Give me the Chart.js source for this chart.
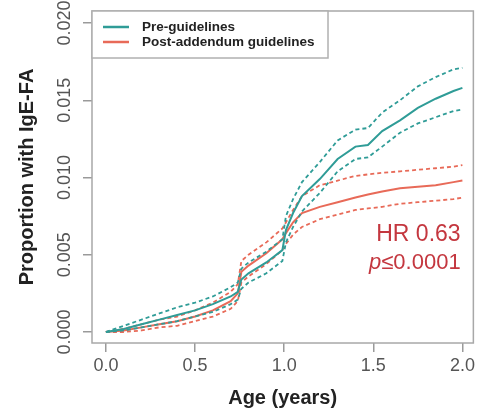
<!DOCTYPE html>
<html>
<head>
<meta charset="utf-8">
<script src="https://cdn.jsdelivr.net/npm/chart.js@4.4.0/dist/chart.umd.min.js"></script>
<style>
  html, body { margin: 0; padding: 0; background: #fff; }
  canvas { display: block; }
</style>
</head>
<body>
<canvas id="chart" width="478" height="412"></canvas>
<script>
// age in years, shared by every curve
const ages = [0, 0.1, 0.2, 0.3, 0.4, 0.5, 0.6, 0.7, 0.74, 0.76, 0.8, 0.9, 0.99, 1.01, 1.05, 1.1, 1.2, 1.3, 1.4, 1.47, 1.55, 1.65, 1.75, 1.85, 1.95, 2.0];

// cumulative proportion with IgE-FA, estimate and 95% band
const preMid  = [0, 0.0002, 0.0005, 0.0008, 0.0011, 0.0014, 0.0018, 0.0023, 0.0026, 0.0034, 0.0038, 0.0045, 0.0053, 0.0066, 0.0077, 0.0088, 0.0099, 0.0112, 0.0120, 0.0121, 0.0130, 0.0137, 0.0145, 0.0151, 0.0156, 0.0158];
const preHi   = [0, 0.0004, 0.0008, 0.0012, 0.0016, 0.0019, 0.0023, 0.0029, 0.0032, 0.0041, 0.0045, 0.0052, 0.0060, 0.0075, 0.0086, 0.0097, 0.0110, 0.0124, 0.0131, 0.0132, 0.0142, 0.0150, 0.0159, 0.0165, 0.0170, 0.0171];
const preLo   = [0, 0.0001, 0.0003, 0.0005, 0.0007, 0.0010, 0.0013, 0.0018, 0.0021, 0.0028, 0.0032, 0.0038, 0.0046, 0.0058, 0.0068, 0.0078, 0.0090, 0.0104, 0.0112, 0.0113, 0.0120, 0.0129, 0.0135, 0.0139, 0.0143, 0.0144];
const postMid = [0, 0.0001, 0.0003, 0.0005, 0.0007, 0.0010, 0.0014, 0.0020, 0.0025, 0.0039, 0.0043, 0.0051, 0.0060, 0.0064, 0.0071, 0.0077, 0.0081, 0.0084, 0.0087, 0.0089, 0.0091, 0.0093, 0.0094, 0.0095, 0.0097, 0.0098];
const postHi  = [0, 0.0002, 0.0005, 0.0008, 0.0010, 0.0014, 0.0019, 0.0026, 0.0031, 0.0046, 0.0050, 0.0058, 0.0067, 0.0071, 0.0079, 0.0088, 0.0095, 0.0098, 0.0101, 0.0102, 0.0103, 0.0104, 0.0105, 0.0106, 0.0107, 0.0108];
const postLo  = [0, 0.0000, 0.0001, 0.0003, 0.0004, 0.0007, 0.0010, 0.0015, 0.0020, 0.0032, 0.0036, 0.0044, 0.0053, 0.0057, 0.0063, 0.0068, 0.0073, 0.0076, 0.0079, 0.0080, 0.0081, 0.0083, 0.0084, 0.0085, 0.0086, 0.0087];

const xTicks = [0, 0.5, 1, 1.5, 2];
const yTicks = [0, 0.005, 0.01, 0.015, 0.02];

const hrText = "HR 0.63";
const pText = "≤0.0001";

const TEAL = "#2f9c97";
const RED = "#e86a58";
const NOTE = "#c4373f";
const FAMILY = "'Liberation Sans', Arial, sans-serif";

function points(values) {
  return values.map((v, i) => ({ x: ages[i], y: v }));
}

function curve(label, values, color, dashed, inLegend) {
  return {
    label: label,
    data: points(values),
    borderColor: color,
    borderWidth: dashed ? 1.8 : 2,
    borderDash: dashed ? [4, 3] : [],
    pointRadius: 0,
    tension: 0,
    fill: false,
    inLegend: inLegend
  };
}

// plot frame, R style box
const frame = {
  id: "frame",
  afterDatasetsDraw(chart) {
    const { ctx, chartArea: a } = chart;
    ctx.save();
    ctx.strokeStyle = "#a8a8a8";
    ctx.lineWidth = 1.5;
    ctx.strokeRect(a.left, a.top, a.right - a.left, a.bottom - a.top);
    ctx.restore();
  }
};

// boxed legend in the top left corner
const boxLegend = {
  id: "boxLegend",
  afterDatasetsDraw(chart) {
    const { ctx, chartArea: a } = chart;
    const items = chart.data.datasets.filter(d => d.inLegend);
    const x = a.left, y = a.top, w = 236, h = 47;
    ctx.save();
    ctx.fillStyle = "#fff";
    ctx.fillRect(x, y, w, h);
    ctx.strokeStyle = "#b0b0b0";
    ctx.lineWidth = 1.5;
    ctx.strokeRect(x, y, w, h);
    ctx.font = "bold 13.5px " + FAMILY;
    ctx.textBaseline = "middle";
    items.forEach((d, i) => {
      const ly = y + 16 + i * 15;
      ctx.strokeStyle = d.borderColor;
      ctx.lineWidth = 2.5;
      ctx.beginPath();
      ctx.moveTo(x + 11, ly);
      ctx.lineTo(x + 37, ly);
      ctx.stroke();
      ctx.fillStyle = "#222";
      ctx.fillText(d.label, x + 50, ly);
    });
    ctx.restore();
  }
};

// hazard ratio note
const hrNote = {
  id: "hrNote",
  afterDatasetsDraw(chart) {
    const { ctx, scales } = chart;
    const right = scales.x.getPixelForValue(1.99);
    ctx.save();
    ctx.fillStyle = NOTE;
    ctx.textAlign = "right";
    ctx.textBaseline = "middle";
    ctx.font = "23px " + FAMILY;
    ctx.fillText(hrText, right, scales.y.getPixelForValue(0.0063));
    const py = scales.y.getPixelForValue(0.0045);
    ctx.font = "22px " + FAMILY;
    const restW = ctx.measureText(pText).width;
    ctx.fillText(pText, right, py);
    ctx.font = "italic 22px " + FAMILY;
    ctx.fillText("p", right - restW, py);
    ctx.restore();
  }
};

const gridOpts = { drawOnChartArea: false, drawTicks: true, tickLength: 9, color: "#9a9a9a", lineWidth: 1.5 };

new Chart(document.getElementById("chart"), {
  type: "line",
  data: {
    datasets: [
      curve("Pre-guidelines", preMid, TEAL, false, true),
      curve("Pre-guidelines upper", preHi, TEAL, true, false),
      curve("Pre-guidelines lower", preLo, TEAL, true, false),
      curve("Post-addendum guidelines", postMid, RED, false, true),
      curve("Post-addendum upper", postHi, RED, true, false),
      curve("Post-addendum lower", postLo, RED, true, false)
    ]
  },
  options: {
    responsive: false,
    animation: false,
    layout: { padding: { top: 11, right: 3, left: 0, bottom: 0 } },
    plugins: { legend: { display: false }, tooltip: { enabled: false } },
    scales: {
      x: {
        type: "linear",
        min: -0.078,
        max: 2.0615,
        afterBuildTicks: s => { s.ticks = xTicks.map(v => ({ value: v })); },
        afterFit: s => { s.height = 69; },
        grid: gridOpts,
        border: { display: false },
        ticks: {
          autoSkip: false,
          maxRotation: 0,
          padding: 3,
          color: "#555",
          font: { family: FAMILY, size: 18 },
          callback: v => v.toFixed(1)
        },
        title: {
          display: true,
          text: "Age (years)",
          color: "#222",
          font: { family: FAMILY, size: 20, weight: "bold" },
          padding: { top: 0, bottom: 2 }
        }
      },
      y: {
        type: "linear",
        min: -0.000712,
        max: 0.020777,
        afterBuildTicks: s => { s.ticks = yTicks.map(v => ({ value: v })); },
        afterFit: s => { s.width = 92; },
        grid: gridOpts,
        border: { display: false },
        ticks: {
          autoSkip: false,
          minRotation: 90,
          maxRotation: 90,
          crossAlign: "center",
          padding: -5,
          color: "#555",
          font: { family: FAMILY, size: 18 },
          callback: v => v.toFixed(3)
        },
        title: {
          display: true,
          text: "Proportion with IgE-FA",
          color: "#222",
          font: { family: FAMILY, size: 20, weight: "bold" },
          padding: { top: 15, bottom: 0 }
        }
      }
    }
  },
  plugins: [frame, boxLegend, hrNote]
});
</script>
</body>
</html>
